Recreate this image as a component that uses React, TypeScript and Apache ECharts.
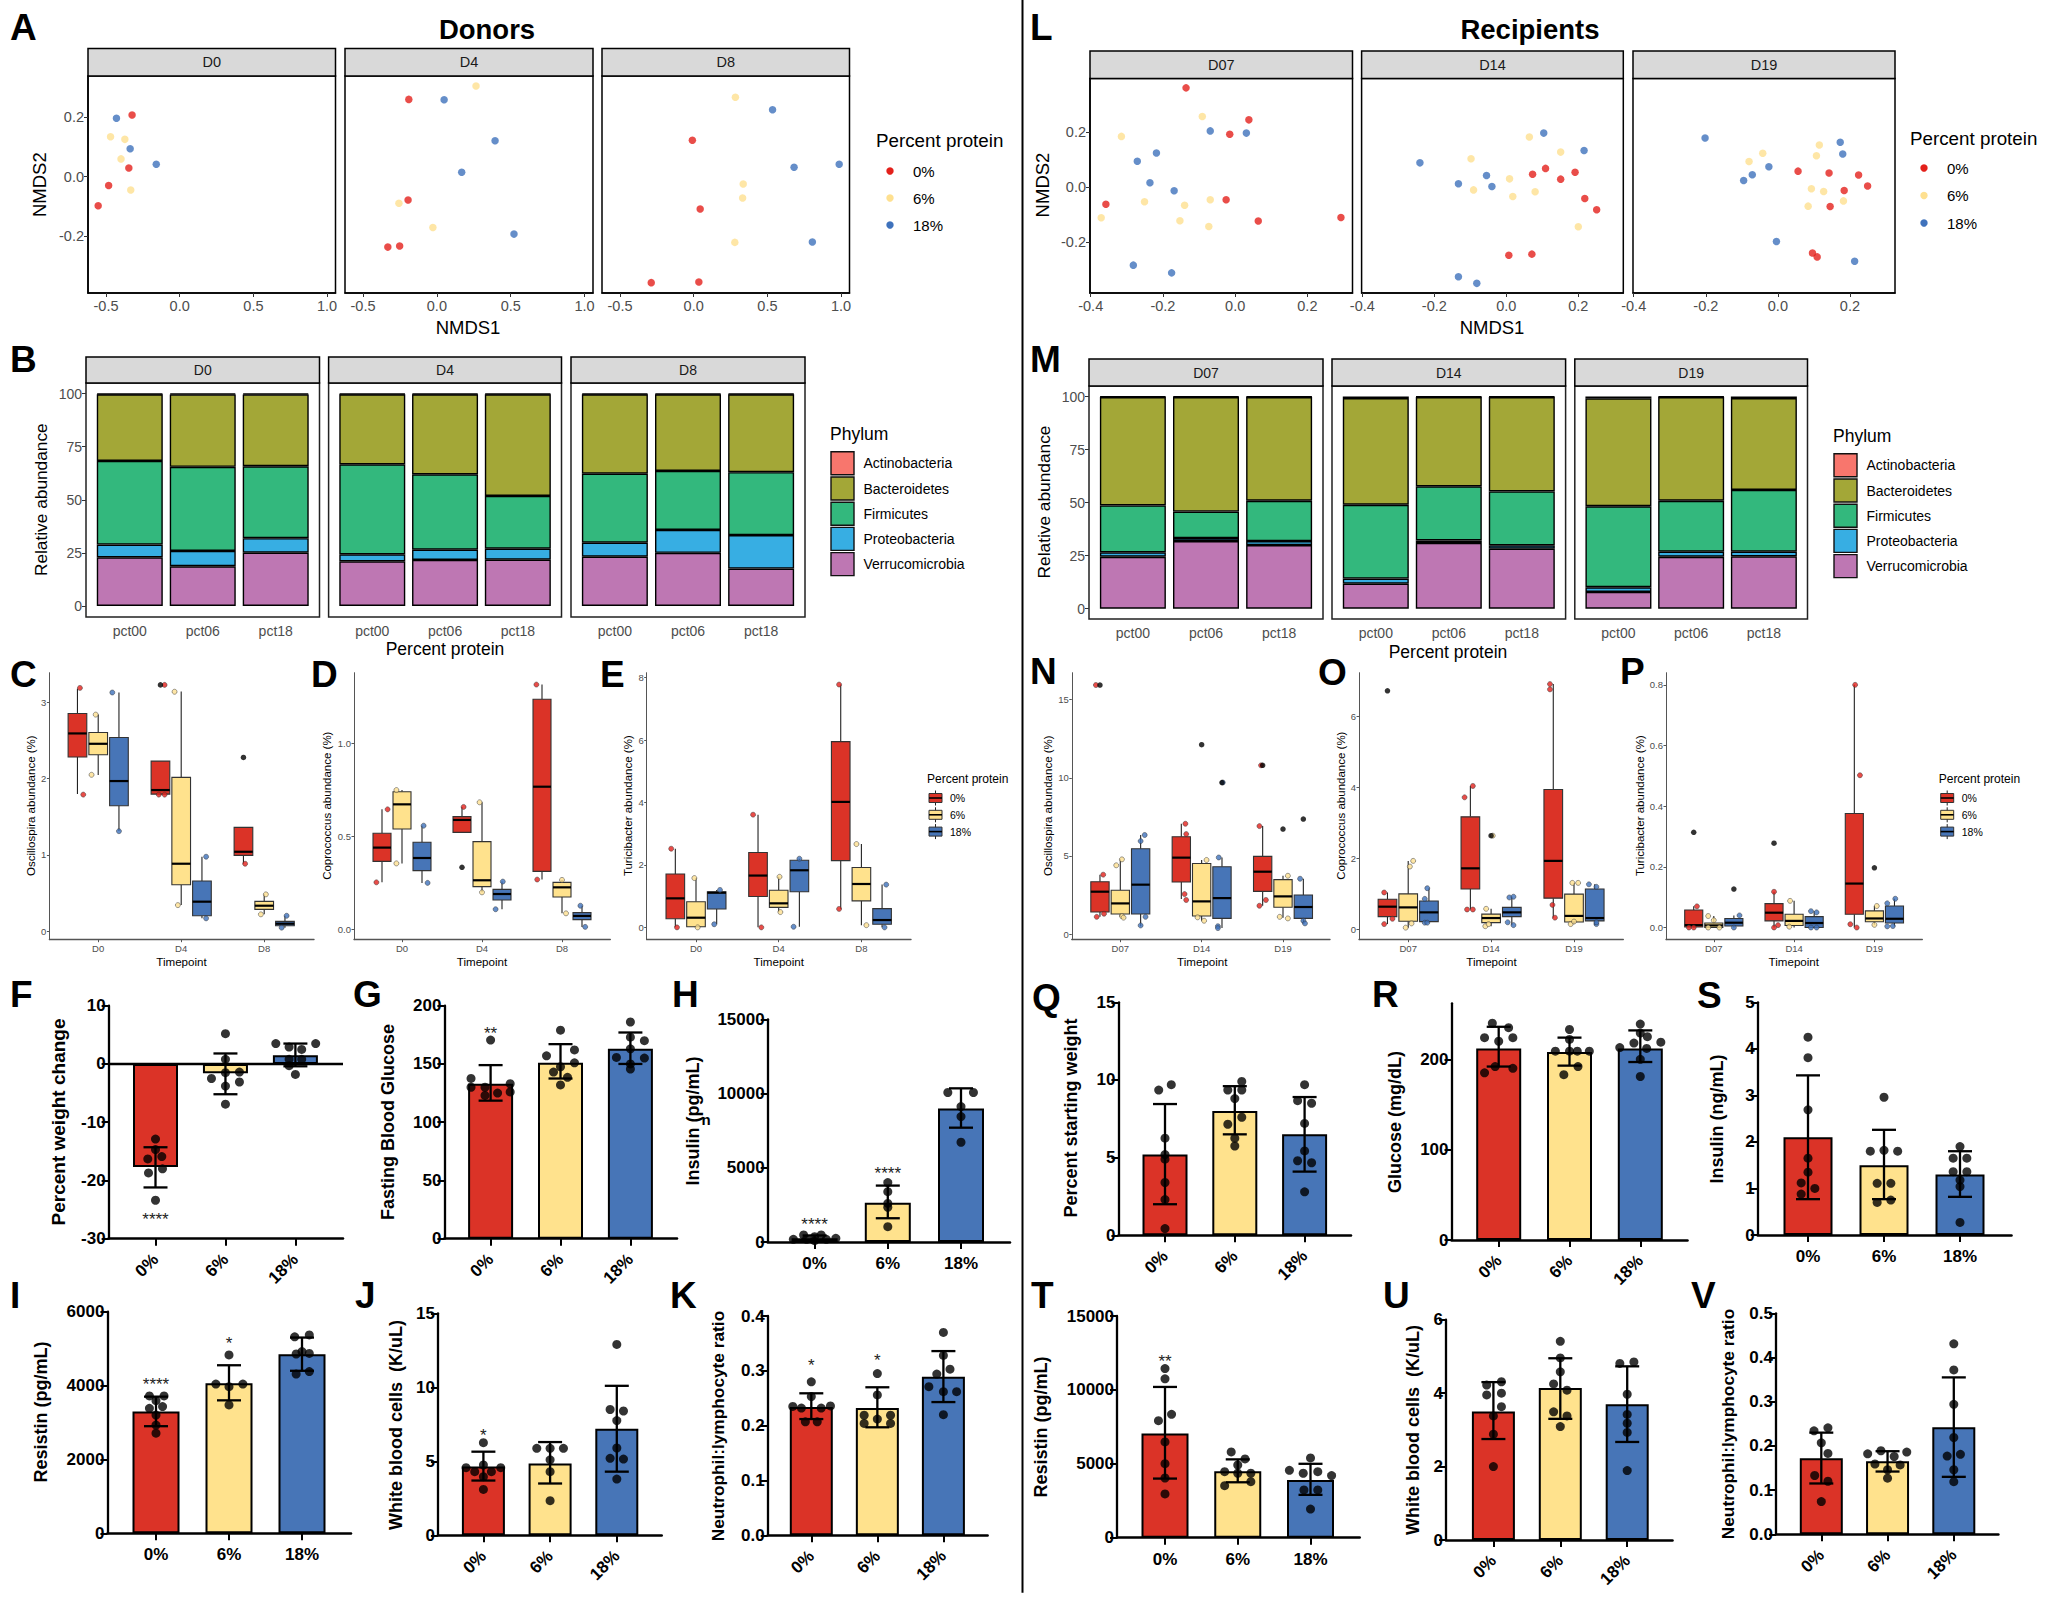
import React, { useEffect, useRef } from "react";
import * as echarts from "echarts";

// ---------- labels ----------
const groupLabels = ["0%", "6%", "18%"];
const phyla = ["Actinobacteria", "Bacteroidetes", "Firmicutes", "Proteobacteria", "Verrucomicrobia"];
const pctLabels = ["pct00", "pct06", "pct18"];
const donorDays = ["D0", "D4", "D8"];
const recipientDays = ["D07", "D14", "D19"];

// ---------- NMDS points: [NMDS1, NMDS2], one list per protein group ----------
const A_D0 = [
  [[-0.323, 0.208], [-0.345, 0.029], [-0.482, -0.03], [-0.553, -0.098]],
  [[-0.469, 0.135], [-0.372, 0.126], [-0.398, 0.06], [-0.332, -0.045]],
  [[-0.429, 0.197], [-0.336, 0.094], [-0.159, 0.042]],
];
const A_D4 = [
  [[-0.19, 0.261], [-0.195, -0.079], [-0.252, -0.234], [-0.332, -0.238]],
  [[0.265, 0.306], [-0.257, -0.09], [-0.027, -0.172]],
  [[0.049, 0.26], [0.394, 0.121], [0.168, 0.015], [0.522, -0.194]],
];
const A_D8 = [
  [[-0.009, 0.123], [0.044, -0.109], [-0.288, -0.358], [0.035, -0.356]],
  [[0.283, 0.268], [0.336, -0.025], [0.332, -0.072], [0.279, -0.222]],
  [[0.535, 0.226], [0.681, 0.032], [0.987, 0.042], [0.805, -0.221]],
];
const L_D07 = [
  [[-0.136, 0.36], [0.038, 0.244], [-0.015, 0.192], [-0.358, -0.062], [-0.025, -0.046], [0.064, -0.123], [0.293, -0.11]],
  [[-0.091, 0.256], [-0.315, 0.184], [-0.251, -0.053], [-0.14, -0.066], [-0.069, -0.046], [-0.371, -0.111], [-0.153, -0.122], [-0.073, -0.143]],
  [[-0.069, 0.204], [0.031, 0.196], [-0.218, 0.124], [-0.271, 0.094], [-0.236, 0.016], [-0.169, -0.013], [-0.282, -0.283], [-0.176, -0.311]],
];
const L_D14 = [
  [[0.109, 0.068], [0.073, 0.047], [0.191, 0.054], [0.151, 0.029], [0.218, -0.041], [0.251, -0.082], [0.007, -0.247], [0.071, -0.243]],
  [[0.064, 0.182], [0.151, 0.127], [-0.098, 0.103], [0.009, 0.03], [-0.091, -0.01], [0.08, -0.017], [0.018, -0.034], [0.2, -0.144]],
  [[0.104, 0.196], [0.216, 0.133], [-0.24, 0.088], [-0.055, 0.042], [-0.133, 0.012], [-0.04, 0.002], [-0.133, -0.325], [-0.082, -0.349]],
];
const L_D19 = [
  [[0.056, 0.058], [0.142, 0.051], [0.224, 0.044], [0.249, 0.004], [0.184, -0.012], [0.145, -0.07], [0.096, -0.239], [0.109, -0.253]],
  [[0.115, 0.153], [-0.042, 0.123], [0.107, 0.114], [-0.08, 0.093], [0.093, -0.006], [0.127, -0.016], [0.182, -0.05], [0.084, -0.069]],
  [[-0.202, 0.178], [0.173, 0.163], [0.18, 0.12], [-0.025, 0.074], [-0.071, 0.045], [-0.095, 0.024], [-0.004, -0.197], [0.213, -0.269]],
];

// ---------- relative abundance: per facet, per pct group ----------
const B_verruco = [[22.9, 18.7, 25.1], [21, 21.7, 21.8], [23.2, 25, 17.6]];
const B_proteo = [[6, 7.2, 6.8], [3.3, 4.8, 5.2], [6.6, 10.8, 15.8]];
const B_firmi = [[39.4, 39.6, 33.9], [42.4, 35.5, 24.8], [32.5, 27.8, 29.6]];
const B_bactero = [[31.4, 34.1, 33.8], [33, 37.7, 47.9], [37.4, 36.1, 36.7]];
const B_actino = [[0.3, 0.4, 0.4], [0.3, 0.3, 0.3], [0.3, 0.3, 0.3]];
const M_verruco = [[24.5, 31.9, 30], [11.8, 31, 28.3], [7.9, 24.5, 24.7]];
const M_proteo = [[2.1, 1.4, 1.9], [2.4, 1.2, 1.6], [2.2, 2.4, 2.2]];
const M_firmi = [[22.1, 12.5, 19], [34.8, 25.5, 25.4], [38.2, 24, 29.1]];
const M_bactero = [[51.1, 54, 48.9], [50.3, 42.1, 44.5], [50.9, 48.9, 43.3]];
const M_actino = [[0.2, 0.2, 0.2], [0.7, 0.2, 0.2], [0.8, 0.2, 0.7]];

// ---------- box plots: [min, q1, median, q3, max], order D1 0/6/18, D2 0/6/18, D3 0/6/18 ----------
const C_stats = [[1.797, 2.283, 2.593, 2.855, 3.18], [2.046, 2.313, 2.457, 2.606, 2.84], [1.312, 1.644, 1.968, 2.54, 3.13], [1.79, 1.797, 1.85, 2.23, 2.23], [0.341, 0.608, 0.883, 2.016, 3.144], [0.166, 0.201, 0.385, 0.656, 0.975], [0.883, 0.993, 1.04, 1.36, 1.36], [0.219, 0.284, 0.332, 0.389, 0.481], [0.044, 0.07, 0.096, 0.127, 0.2]];
const C_outliers = [[], [], [], [3.23], [], [], [2.278], [], []];
const C_dots = [[[0.03, 3.19], [0.07, 1.79]], [[-0.03, 2.84], [-0.08, 2.05]], [[-0.08, 3.13], [0, 1.31]], [[0.05, 3.23], [-0.02, 1.79], [0.05, 1.79]], [[-0.08, 3.14], [-0.04, 0.34]], [[0.05, 0.975], [0.05, 0.166]], [[0.02, 0.883]], [[0.02, 0.481], [-0.04, 0.219]], [[0.02, 0.2], [-0.04, 0.044]]];
const D_stats = [[0.253, 0.366, 0.44, 0.517, 0.646], [0.355, 0.54, 0.673, 0.741, 0.75], [0.25, 0.316, 0.384, 0.469, 0.558], [0.522, 0.522, 0.589, 0.607, 0.659], [0.199, 0.23, 0.264, 0.472, 0.684], [0.108, 0.158, 0.19, 0.215, 0.257], [0.268, 0.312, 0.768, 1.239, 1.318], [0.086, 0.174, 0.226, 0.253, 0.266], [0.013, 0.052, 0.072, 0.09, 0.127]];
const D_outliers = [[], [], [], [0.334], [], [], [], [], []];
const D_dots = [[[0.07, 0.646], [-0.07, 0.253]], [[-0.07, 0.75], [-0.07, 0.355]], [[0.02, 0.558], [0.07, 0.25]], [[0.02, 0.659]], [[-0.03, 0.684], [0, 0.199]], [[0.01, 0.257], [-0.08, 0.108]], [[-0.07, 1.318], [-0.06, 0.268]], [[0, 0.266], [0.05, 0.086]], [[-0.02, 0.127], [0.04, 0.013]]];
const E_stats = [[0, 0.278, 0.93, 1.71, 2.52], [0, 0.02, 0.31, 0.823, 1.58], [0.1, 0.59, 1.11, 1.14, 1.2], [0, 0.99, 1.66, 2.4, 3.61], [0.49, 0.64, 0.77, 1.19, 1.62], [0.02, 1.14, 1.83, 2.15, 2.2], [0.59, 2.14, 4.02, 5.95, 7.78], [0.07, 0.85, 1.39, 1.92, 2.67], [0, 0.1, 0.235, 0.6, 1.37]];
const E_outliers = [[], [], [], [], [], [], [], [], []];
const E_dots = [[[-0.05, 2.52], [0.02, 0]], [[-0.02, 1.58], [0.02, 0]], [[0.04, 1.2], [-0.03, 0.1]], [[-0.06, 3.61], [0.04, 0]], [[0.01, 1.62], [0.02, 0.49]], [[0, 2.2], [-0.07, 0.02]], [[-0.02, 7.78], [-0.02, 0.59]], [[-0.06, 2.67], [0.06, 0.07]], [[0.05, 1.37], [0.03, 0]]];
const N_stats = [[1.1, 1.41, 2.71, 3.35, 3.8], [1.1, 1.28, 1.96, 2.8, 4.78], [0.5, 1.28, 3.16, 5.46, 6.34], [2.24, 3.33, 4.89, 6.23, 7.06], [0.85, 1.15, 2.09, 4.52, 4.74], [0.38, 1, 2.3, 4.31, 4.9], [1.81, 2.73, 3.99, 4.97, 6.91], [1.05, 1.71, 2.41, 3.48, 3.73], [0.68, 1, 1.73, 2.5, 3.54]];
const N_outliers = [[15.94], [], [], [], [12.12], [9.7], [10.8], [6.72], [7.36]];
const N_dots = [[[-0.05, 15.94], [0.04, 3.8], [-0.04, 1.1], [0.05, 1.3]], [[0.02, 4.78], [-0.05, 4.4], [0.02, 1.15], [0.04, 1.05]], [[0.05, 6.34], [0, 5.95], [0.06, 1.1], [0, 0.55]], [[0.05, 7.06], [0.06, 6.4], [0.04, 2.56], [0.06, 2.18]], [[0.06, 4.74], [-0.05, 1.07], [0.03, 0.85]], [[-0.04, 4.9], [-0.05, 0.5], [-0.05, 0.38], [0.01, 9.7]], [[-0.02, 10.8], [-0.04, 6.91], [0.04, 2.18], [-0.04, 1.81]], [[0.06, 3.73], [-0.04, 1.1], [0.06, 1]], [[-0.04, 3.54], [0, 0.85], [0.02, 0.68]]];
const O_stats = [[0.15, 0.36, 0.64, 0.85, 1.04], [0.05, 0.23, 0.62, 1, 1.93], [0.19, 0.22, 0.48, 0.8, 1.16], [0.56, 1.14, 1.72, 3.17, 4.04], [0.09, 0.19, 0.32, 0.43, 0.58], [0.12, 0.36, 0.48, 0.62, 0.92], [0.33, 0.88, 1.93, 3.94, 6.91], [0.15, 0.21, 0.38, 0.995, 1.31], [0.12, 0.24, 0.32, 1.14, 1.27]];
const O_outliers = [[6.72], [], [], [], [2.64], [], [], [], []];
const O_dots = [[[-0.04, 1.04], [0.06, 0.3], [-0.04, 0.15]], [[0.06, 1.93], [0.02, 1.77], [0.04, 0.17], [-0.03, 0.05]], [[-0.02, 1.16], [-0.05, 0.86], [-0.05, 0.19], [-0.02, 0.19]], [[0.03, 4.04], [-0.07, 3.72], [-0.04, 0.56], [0.03, 0.56]], [[-0.06, 0.58], [-0.07, 0.09], [-0.03, 0.15], [0.02, 2.64]], [[-0.03, 0.9], [0.02, 0.92], [-0.05, 0.2], [0.02, 0.12]], [[-0.04, 6.91], [-0.04, 6.76], [-0.01, 0.69], [0.02, 0.33]], [[-0.02, 1.31], [0.05, 1.31], [-0.04, 0.15], [0, 0.22]], [[-0.07, 1.27], [0.02, 1.2], [0.02, 0.15], [0.02, 0.2]]];
const P_stats = [[0, 0.002, 0.008, 0.058, 0.07], [0, 0, 0.007, 0.015, 0.038], [0, 0.005, 0.016, 0.03, 0.04], [0, 0.022, 0.049, 0.079, 0.118], [0, 0.007, 0.022, 0.044, 0.088], [0, 0, 0.015, 0.036, 0.054], [0, 0.044, 0.145, 0.376, 0.8], [0.009, 0.019, 0.03, 0.055, 0.071], [0.004, 0.015, 0.029, 0.071, 0.095]];
const P_outliers = [[0.314], [], [0.127], [0.278], [], [], [], [0.197], []];
const P_dots = [[[0.04, 0.07], [-0.06, 0], [0, 0]], [[-0.07, 0.038], [0, 0.024], [-0.07, 0], [0.07, 0]], [[0.07, 0.04], [0, 0]], [[0, 0.118], [0.05, 0.008], [0, 0]], [[-0.05, 0.088], [-0.06, 0.003]], [[-0.04, 0.054], [0.03, 0.05], [-0.04, 0], [0.03, 0]], [[0.01, 0.8], [0.07, 0.502], [-0.05, 0.011], [0.03, 0]], [[0.03, 0.071], [0, 0.009]], [[0.01, 0.095], [-0.09, 0.08], [-0.09, 0.004], [-0.02, 0.005]]];

// ---------- bar panels: mean, error low, error high, dots [x jitter, value] per group ----------
const F_mean = [-17.7, -1.6, 1.5];
const F_lo = [-21.2, -5.2, -0.4];
const F_hi = [-14.3, 1.8, 3.5];
const F_dots = [[[0, -12.9], [-0.11, -16.3], [0.09, -15.9], [0, -14.7], [0.1, -18], [-0.1, -18.7], [0, -23.4]], [[0, 5.2], [0, 0.8], [-0.2, -2.5], [0.2, -3.1], [0, -1.5], [0.2, -1.4], [0, -3.8], [0, -6.9]], [[-0.28, 3.5], [0.29, 3.5], [-0.09, 2.9], [0.09, 2.5], [-0.09, 0.8], [0.09, 0.8], [-0.09, -0.3], [0, -1.8]]];
const G_mean = [133, 151, 163];
const G_lo = [118.5, 137.5, 150];
const G_hi = [149, 167, 177];
const G_dots = [[[0, 170.5], [-0.28, 137.6], [-0.28, 130], [0.28, 133], [0.28, 126], [-0.08, 130], [0.1, 125], [-0.08, 123]], [[0, 179], [-0.2, 157], [0.2, 162], [0.2, 151], [0, 147.6], [-0.1, 143], [0.1, 138.5], [0, 132]], [[0, 186], [0, 173], [0.2, 170], [0, 163], [-0.2, 155.6], [0.2, 155], [0, 150], [0, 145.6]]];
const H_mean = [260, 2650, 9000];
const H_lo = [80, 1600, 7700];
const H_hi = [440, 3800, 10350];
const H_dots = [[[-0.29, 180], [-0.15, 470], [0, 360], [0.09, 470], [0.29, 250], [0.16, 180], [-0.11, 180], [0, 90]], [[0, 4000], [0, 3390], [0, 2600], [0, 2340], [0, 1030]], [[-0.18, 10070], [0.17, 10070], [0, 9120], [0, 8450], [0, 6720]]];
const I_mean = [3300, 4060, 4850];
const I_lo = [2900, 3600, 4400];
const I_hi = [3700, 4550, 5300];
const I_dots = [[[-0.09, 3720], [0.11, 3720], [0, 3590], [-0.09, 3385], [0.09, 3430], [0, 3200], [0, 2930], [0, 2710]], [[0, 4830], [-0.18, 4040], [0.19, 4040], [0, 3970], [0, 3475]], [[-0.1, 5320], [0.1, 5370], [0, 4920], [0.1, 4870], [-0.08, 4855], [0.1, 4380], [-0.08, 4310]]];
const J_mean = [4.65, 4.85, 7.2];
const J_lo = [3.7, 3.5, 4.3];
const J_hi = [5.65, 6.3, 10.1];
const J_dots = [[[0, 6.26], [-0.26, 4.57], [0.26, 4.57], [0, 4.75], [-0.13, 4.3], [0.12, 4.3], [0, 3.96], [0, 3.1]], [[-0.2, 5.88], [0.2, 5.88], [0, 5.88], [0, 5.1], [0, 4.3], [0, 2.34]], [[0, 12.9], [-0.1, 8.5], [0.1, 8.4], [0, 7.75], [0, 5.9], [-0.1, 5.2], [0.1, 5.15], [0, 3.8]]];
const K_mean = [0.234, 0.232, 0.289];
const K_lo = [0.212, 0.197, 0.243];
const K_hi = [0.259, 0.27, 0.336];
const K_dots = [[[0, 0.28], [0, 0.253], [-0.28, 0.235], [-0.15, 0.232], [0.15, 0.232], [0.29, 0.236], [-0.09, 0.207], [0.09, 0.207]], [[0, 0.295], [0, 0.256], [-0.2, 0.219], [0.2, 0.219], [-0.2, 0.204], [0, 0.212], [0.2, 0.204]], [[0, 0.37], [0, 0.328], [0.1, 0.303], [-0.1, 0.294], [-0.22, 0.271], [0.2, 0.262], [0, 0.262], [0, 0.22]]];
const Q_mean = [5.2, 8.0, 6.5];
const Q_lo = [2.0, 6.5, 4.1];
const Q_hi = [8.45, 9.6, 8.9];
const Q_dots = [[[-0.09, 9.35], [0.09, 9.7], [0, 6.25], [0, 5.2], [0, 4.9], [0, 3.4], [0, 2.3], [0, 0.43]], [[0.1, 9.9], [-0.1, 9.35], [0.1, 9.35], [0, 8.8], [0.1, 7.6], [-0.1, 7.15], [0, 6.25], [0, 5.75]], [[0, 9.7], [-0.1, 8.67], [0.1, 8.5], [0, 7.2], [0, 5.43], [-0.1, 4.8], [0.1, 4.67], [0, 2.8]]];
const R_mean = [212, 208, 212];
const R_lo = [192, 193, 197];
const R_hi = [236, 224, 232];
const R_dots = [[[-0.09, 240], [0.14, 235], [-0.2, 224], [0.2, 224], [0, 220], [-0.2, 185], [-0.05, 192], [0.2, 190]], [[0, 233], [0, 222], [-0.2, 209], [0, 209], [0.11, 209], [0.28, 209], [0.12, 192], [-0.08, 183]], [[0, 239], [0, 229], [0.1, 225], [0.29, 219], [-0.09, 218], [-0.29, 213], [0.09, 212], [0, 200], [0, 181]]];
const S_mean = [2.1, 1.5, 1.3];
const S_lo = [0.77, 0.77, 0.82];
const S_hi = [3.43, 2.26, 1.8];
const S_dots = [[[0, 4.25], [0, 3.81], [0, 2.69], [0, 1.65], [0, 1.35], [-0.09, 1.12], [0.09, 1], [-0.09, 0.88]], [[0, 2.96], [-0.18, 1.8], [0, 1.82], [0.18, 1.8], [-0.09, 1.11], [0.09, 1.11], [-0.09, 0.7], [0.09, 0.75]], [[0, 1.9], [-0.09, 1.65], [0.09, 1.65], [-0.09, 1.36], [0.09, 1.36], [0, 1.18], [0, 1.04], [0, 0.27]]];
const T_mean = [7050, 4500, 3900];
const T_lo = [4000, 3750, 2900];
const T_hi = [10200, 5300, 5000];
const T_dots = [[[0, 11440], [0, 10750], [0.09, 8350], [-0.09, 7920], [0, 6480], [0, 5010], [0, 4040], [0, 2960]], [[-0.09, 5800], [0.1, 5330], [0, 4920], [-0.18, 4470], [0, 4360], [0.18, 4360], [-0.18, 3520], [0.18, 3790]], [[0, 5400], [-0.29, 4560], [-0.1, 4360], [0.1, 4470], [0.29, 4200], [-0.09, 3230], [0.1, 3230], [0, 1940]]];
const U_mean = [3.5, 4.14, 3.7];
const U_lo = [2.75, 3.3, 2.67];
const U_hi = [4.3, 4.95, 4.73];
const U_dots = [[[-0.1, 4.22], [0.12, 4.31], [0.12, 4], [-0.1, 3.95], [0.12, 3.63], [0, 3.38], [0, 2.88], [0, 2]], [[0, 5.41], [0, 4.96], [0, 4.58], [-0.1, 4.25], [0.1, 4.08], [-0.1, 3.49], [0.1, 3.38], [0, 3.09]], [[-0.11, 4.81], [0.1, 4.85], [0, 3.97], [0, 3.42], [0, 3.18], [0, 2.93], [0, 1.89]]];
const V_mean = [0.172, 0.165, 0.242];
const V_lo = [0.115, 0.142, 0.13];
const V_hi = [0.23, 0.188, 0.355];
const V_dots = [[[-0.11, 0.234], [0.1, 0.241], [0, 0.207], [0.1, 0.183], [-0.1, 0.133], [0.1, 0.12], [0, 0.074]], [[-0.1, 0.189], [-0.3, 0.182], [0.29, 0.186], [0.1, 0.176], [-0.19, 0.159], [0.19, 0.157], [0, 0.146], [0, 0.127]], [[0, 0.431], [0, 0.372], [0, 0.294], [0, 0.219], [0.1, 0.181], [-0.1, 0.177], [0, 0.146], [0, 0.119]]];

// ---------- significance marks: [group index, height in data units, text] ----------
const F_stars = [[0, -26, "****"]];
const G_stars = [[0, 179.7, "**"]];
const H_stars = [[0, 1438, "****"], [1, 4854, "****"]];
const I_stars = [[0, 4134, "****"], [1, 5235, "*"]];
const J_stars = [[0, 7.0, "*"]];
const K_stars = [[0, 0.317, "*"], [1, 0.326, "*"]];
const T_stars = [[0, 12212, "**"]];

// ---------- styles ----------
const SANS = '"Liberation Sans", Arial, sans-serif';
const BAR_COLORS = ["#DB3327", "#FFE28D", "#4775B7"];
const DOT_COLORS = ["#E3201B", "#FEE090", "#3F72BC"];
const PHYLUM_COLORS = ["#F8766D", "#A3A737", "#33B87D", "#37AEE3", "#BE77B3"];
const GRAY = "#4d4d4d";

export default function App() {
  const ref = useRef<HTMLDivElement>(null);
  useEffect(() => {
    const chart = echarts.init(ref.current!, undefined, { renderer: "svg" });
    const grid: any[] = [];
    const xAxis: any[] = [];
    const yAxis: any[] = [];
    const series: any[] = [];
    const g: any[] = [];

    const text = (t: string, x: number, y: number, o: any = {}) =>
      g.push({
        type: "text", x, y, rotation: o.vertical ? Math.PI / 2 : 0, silent: true,
        style: {
          text: t, x: 0, y: 0, align: o.align || "center", verticalAlign: "middle",
          fontSize: o.size || 14, fontWeight: o.weight || "normal", fontFamily: SANS, fill: o.fill || "#000",
        },
      });
    const rect = (x: number, y: number, w: number, h: number, fill: string, stroke = "#000", lw = 1.5) =>
      g.push({ type: "rect", silent: true, shape: { x, y, width: w, height: h }, style: { fill, stroke, lineWidth: lw } });
    const line = (x1: number, y1: number, x2: number, y2: number, lw = 1, stroke = "#000") =>
      g.push({ type: "line", silent: true, shape: { x1, y1, x2, y2 }, style: { stroke, lineWidth: lw } });

    const addGrid = (left: number, top: number, right: number, bottom: number, frame = false) => {
      grid.push({
        left, top, width: right - left, height: bottom - top, containLabel: false,
        show: frame, borderColor: "#000", borderWidth: frame ? 1.5 : 0, backgroundColor: frame ? "#fff" : "transparent",
      });
      return grid.length - 1;
    };
    const xRange = (left: number, right: number, t: number[]) => {
      const u = (t[2] - t[0]) / 2;
      return [1 - (t[0] - left) / u, 3 + (right - t[2]) / u];
    };

    // ---- NMDS facets ----
    const nmds = (cfg: any) => {
      cfg.panels.forEach((p: number[], i: number) => {
        const idx = addGrid(p[0], cfg.top, p[1], cfg.bottom, true);
        rect(p[0], cfg.stripTop, p[1] - p[0], cfg.top - cfg.stripTop, "#D9D9D9");
        text(cfg.days[i], (p[0] + p[1]) / 2, (cfg.stripTop + cfg.top) / 2, { size: 14.5, fill: "#1a1a1a" });
        xAxis.push({
          gridIndex: idx, type: "value", min: cfg.xr[0], max: cfg.xr[1], splitLine: { show: false },
          axisLine: { onZero: false, lineStyle: { color: "#000", width: 1.5 } },
          axisTick: { length: 4, customValues: cfg.xt, lineStyle: { color: "#333" } },
          axisLabel: { customValues: cfg.xt, margin: 5, fontSize: 14.5, color: GRAY, fontFamily: SANS, formatter: (v: number) => v.toFixed(1) },
        });
        yAxis.push({
          gridIndex: idx, type: "value", min: cfg.yr[0], max: cfg.yr[1], show: i === 0, splitLine: { show: false },
          axisLine: { onZero: false, lineStyle: { color: "#000", width: 1.5 } },
          axisTick: { length: 4, customValues: cfg.yt, lineStyle: { color: "#333" } },
          axisLabel: { customValues: cfg.yt, margin: 4, fontSize: 14.5, color: GRAY, fontFamily: SANS, formatter: (v: number) => v.toFixed(1) },
        });
        cfg.data[i].forEach((pts: number[][], k: number) =>
          series.push({
            type: "scatter", name: groupLabels[k], xAxisIndex: idx, yAxisIndex: idx, data: pts, symbolSize: 7.5,
            itemStyle: { color: DOT_COLORS[k] }, clip: false,
          })
        );
      });
      text("NMDS1", cfg.xTitle[0], cfg.xTitle[1], { size: 18.5 });
      text("NMDS2", cfg.yTitle[0], cfg.yTitle[1], { size: 18.5, vertical: true });
      text("Percent protein", cfg.legend[0], cfg.legend[1], { size: 18.8, align: "left" });
      groupLabels.forEach((l, k) => {
        const y = cfg.legend[2] + k * cfg.legend[3];
        g.push({ type: "circle", silent: true, shape: { cx: cfg.legend[0] + 14, cy: y, r: 3.7 }, style: { fill: DOT_COLORS[k] } });
        text(l, cfg.legend[0] + 37, y, { size: 15, align: "left" });
      });
    };
    nmds({
      panels: [[88, 335.5], [345, 593], [602, 849.5]], stripTop: 48.5, top: 76, bottom: 293, days: donorDays,
      xr: [-0.622, 1.057], yr: [-0.393, 0.34], xt: [-0.5, 0, 0.5, 1], yt: [-0.2, 0, 0.2],
      data: [A_D0, A_D4, A_D8], xTitle: [468, 327], yTitle: [39, 184.7], legend: [876, 140, 171, 27],
    });
    nmds({
      panels: [[1090, 1352.5], [1361.6, 1623.3], [1633, 1895]], stripTop: 51, top: 78.5, bottom: 293, days: recipientDays,
      xr: [-0.402, 0.325], yr: [-0.384, 0.394], xt: [-0.4, -0.2, 0, 0.2], yt: [-0.2, 0, 0.2],
      data: [L_D07, L_D14, L_D19], xTitle: [1492, 327], yTitle: [1042, 185], legend: [1910, 138, 168, 27.5],
    });

    // ---- stacked composition facets: category bands fill an inner grid, the frame sits 0.1 band outside it ----
    const stacked = (cfg: any) => {
      cfg.panels.forEach((p: number[], i: number) => {
        const inset = (p[1] - p[0]) / 32;
        const idx = addGrid(p[0] + inset, cfg.top, p[1] - inset, cfg.bottom);
        rect(p[0], cfg.top, p[1] - p[0], cfg.bottom - cfg.top, "transparent", "#222", 1.5);
        rect(p[0], cfg.stripTop, p[1] - p[0], cfg.top - cfg.stripTop, "#D9D9D9");
        text(cfg.days[i], (p[0] + p[1]) / 2, (cfg.stripTop + cfg.top) / 2, { size: 14, fill: "#1a1a1a" });
        xAxis.push({
          gridIndex: idx, type: "category", data: pctLabels, splitLine: { show: false },
          axisLine: { show: false },
          axisTick: { length: 4, alignWithLabel: true, lineStyle: { color: "#333" } },
          axisLabel: { margin: 7, fontSize: 14, color: GRAY, fontFamily: SANS },
        });
        yAxis.push({
          gridIndex: idx, type: "value", min: cfg.yr[0], max: cfg.yr[1], show: i === 0, offset: inset, splitLine: { show: false },
          axisLine: { show: false },
          axisTick: { show: true, length: 4, customValues: [0, 25, 50, 75, 100], lineStyle: { color: "#333" } },
          axisLabel: { customValues: [0, 25, 50, 75, 100], margin: 4, fontSize: 14, color: GRAY, fontFamily: SANS },
        });
        [4, 3, 2, 1, 0].forEach((ph) => {
          series.push({
            type: "bar", name: phyla[ph], xAxisIndex: idx, yAxisIndex: idx, stack: "s" + idx, barWidth: 66,
            data: cfg.data[ph][i],
            itemStyle: { color: PHYLUM_COLORS[ph], borderColor: "#000", borderWidth: 1.4 },
          });
        });
      });
      text("Percent protein", cfg.xTitle[0], cfg.xTitle[1], { size: 17.5 });
      text("Relative abundance", cfg.yTitle[0], cfg.yTitle[1], { size: 17.3, vertical: true });
      text("Phylum", cfg.legend[0], cfg.legend[1], { size: 17.5, align: "left" });
      phyla.forEach((ph, k) => {
        const y = cfg.legend[2] + k * 25.2;
        rect(cfg.legend[0] + 1, y - 11.5, 23, 23, PHYLUM_COLORS[k], "#111", 1.4);
        text(ph, cfg.legend[0] + 33.5, y, { size: 14, align: "left" });
      });
    };
    stacked({
      panels: [[86, 319.5], [328.6, 561.5], [571, 805]], stripTop: 357, top: 383, bottom: 617, days: donorDays, yr: [-5.2, 105],
      data: [B_actino, B_bactero, B_firmi, B_proteo, B_verruco], xTitle: [445, 649], yTitle: [41, 499.7], legend: [830, 434, 463.3],
    });
    stacked({
      panels: [[1089, 1323], [1332, 1565.6], [1574.8, 1807.5]], stripTop: 359, top: 386, bottom: 619, days: recipientDays, yr: [-4.86, 105],
      data: [M_actino, M_bactero, M_firmi, M_proteo, M_verruco], xTitle: [1448, 651.7], yTitle: [1044, 502], legend: [1833, 436, 465.3],
    });

    // ---- box plots ----
    const renderBox = (color: string) => (_: any, api: any) => {
      const x = api.value(0);
      const pt = (xv: number, yv: number) => api.coord([xv, yv]);
      const w = api.size([0.225, 0])[0] / 2;
      const cx = pt(x, 0)[0];
      const yMin = pt(x, api.value(1))[1];
      const yQ1 = pt(x, api.value(2))[1];
      const yMed = pt(x, api.value(3))[1];
      const yQ3 = pt(x, api.value(4))[1];
      const yMax = pt(x, api.value(5))[1];
      return {
        type: "group",
        children: [
          { type: "line", shape: { x1: cx, y1: yMin, x2: cx, y2: yQ1 }, style: { stroke: "#222", lineWidth: 1.1 } },
          { type: "line", shape: { x1: cx, y1: yQ3, x2: cx, y2: yMax }, style: { stroke: "#222", lineWidth: 1.1 } },
          { type: "rect", shape: { x: cx - w, y: yQ3, width: 2 * w, height: yQ1 - yQ3 }, style: { fill: color, stroke: "#333", lineWidth: 1.1 } },
          { type: "line", shape: { x1: cx - w, y1: yMed, x2: cx + w, y2: yMed }, style: { stroke: "#000", lineWidth: 2.2 } },
        ],
      };
    };
    const boxPanel = (cfg: any) => {
      const idx = addGrid(cfg.left, 672.7, cfg.right, 939.7);
      const xr = xRange(cfg.left, cfg.right, cfg.ticks);
      xAxis.push({
        gridIndex: idx, type: "value", min: xr[0], max: xr[1], splitLine: { show: false },
        axisLine: { onZero: false, lineStyle: { color: "#555", width: 1.4 } },
        axisTick: { length: 2.5, customValues: [1, 2, 3], lineStyle: { color: "#555" } },
        axisLabel: { customValues: [1, 2, 3], margin: 4, fontSize: 9.5, color: GRAY, fontFamily: SANS, formatter: (v: number) => cfg.days[v - 1] },
      });
      yAxis.push({
        gridIndex: idx, type: "value", min: cfg.yr[0], max: cfg.yr[1], splitLine: { show: false },
        axisLine: { onZero: false, lineStyle: { color: "#555", width: 1 } },
        axisTick: { length: 2.5, customValues: cfg.yt, lineStyle: { color: "#555" } },
        axisLabel: { customValues: cfg.yt, margin: 3, fontSize: 9.5, color: GRAY, fontFamily: SANS, formatter: (v: number) => (cfg.dec ? v.toFixed(cfg.dec) : String(v)) },
      });
      [0, 1, 2].forEach((k) => {
        const xOf = (c: number) => c + 1 + (k - 1) * 0.25;
        series.push({
          type: "custom", name: groupLabels[k], xAxisIndex: idx, yAxisIndex: idx, clip: false, renderItem: renderBox(BAR_COLORS[k]),
          encode: { x: 0, y: [1, 2, 3, 4, 5] },
          data: [0, 1, 2].map((c) => [xOf(c), ...cfg.stats[c * 3 + k]]),
        });
        const dots: number[][] = [];
        const out: number[][] = [];
        [0, 1, 2].forEach((c) => {
          cfg.dots[c * 3 + k].forEach((d: number[]) => dots.push([xOf(c) + d[0], d[1]]));
          cfg.outliers[c * 3 + k].forEach((v: number) => out.push([xOf(c), v]));
        });
        series.push({
          type: "scatter", name: groupLabels[k], xAxisIndex: idx, yAxisIndex: idx, data: dots, symbolSize: 5, clip: false, z: 3,
          itemStyle: { color: DOT_COLORS[k], borderColor: "#333", borderWidth: 0.6 },
        });
        series.push({
          type: "scatter", name: groupLabels[k], xAxisIndex: idx, yAxisIndex: idx, data: out, symbolSize: 5.5, clip: false, z: 4,
          itemStyle: { color: "#000" },
        });
      });
      text(cfg.title, cfg.titleX, 805.7, { size: 11.5, vertical: true });
      text("Timepoint", cfg.ticks[1], 961, { size: 11.6 });
    };
    boxPanel({ left: 49.4, right: 314, ticks: [98.2, 181.5, 264.2], yr: [-0.114, 3.39], yt: [0, 1, 2, 3], days: donorDays, stats: C_stats, dots: C_dots, outliers: C_outliers, title: "Oscillospira abundance (%)", titleX: 30.6 });
    boxPanel({ left: 354, right: 610.3, ticks: [402, 482, 562], yr: [-0.056, 1.382], yt: [0, 0.5, 1], dec: 1, days: donorDays, stats: D_stats, dots: D_dots, outliers: D_outliers, title: "Coprococcus abundance (%)", titleX: 327 });
    boxPanel({ left: 646.7, right: 911, ticks: [696, 778.8, 861.4], yr: [-0.395, 8.16], yt: [0, 2, 4, 6, 8], days: donorDays, stats: E_stats, dots: E_dots, outliers: E_outliers, title: "Turicibacter abundance (%)", titleX: 628 });
    boxPanel({ left: 1071.8, right: 1330, ticks: [1120.3, 1202.3, 1283], yr: [-0.363, 16.73], yt: [0, 5, 10, 15], days: recipientDays, stats: N_stats, dots: N_dots, outliers: N_outliers, title: "Oscillospira abundance (%)", titleX: 1048 });
    boxPanel({ left: 1359, right: 1623.3, ticks: [1408.2, 1491.5, 1574], yr: [-0.29, 7.23], yt: [0, 2, 4, 6], days: recipientDays, stats: O_stats, dots: O_dots, outliers: O_outliers, title: "Coprococcus abundance (%)", titleX: 1341 });
    boxPanel({ left: 1666, right: 1922.3, ticks: [1713.8, 1793.8, 1874.4], yr: [-0.04, 0.84], yt: [0, 0.2, 0.4, 0.6, 0.8], dec: 1, days: recipientDays, stats: P_stats, dots: P_dots, outliers: P_outliers, title: "Turicibacter abundance (%)", titleX: 1640 });
    // box legends
    [[927, 779], [1938.7, 779]].forEach(([lx, ly]) => {
      text("Percent protein", lx, ly, { size: 12, align: "left" });
      groupLabels.forEach((l, k) => {
        const y = ly + 19 + k * 16.8;
        const kx = lx + 8.5;
        line(kx, y - 7.5, kx, y + 7.5, 1, "#222");
        rect(kx - 6.5, y - 4.5, 13, 9, BAR_COLORS[k], "#333", 1);
        line(kx - 6.5, y, kx + 6.5, y, 1.6);
        text(l, lx + 23, y, { size: 10.5, align: "left" });
      });
    });

    // ---- mean/SD bar panels ----
    const renderErr = (cap: number) => (_: any, api: any) => {
      const x = api.value(0);
      const lo = api.coord([x, api.value(1)]);
      const hi = api.coord([x, api.value(2)]);
      const s = { stroke: "#000", lineWidth: 2.3 };
      return {
        type: "group",
        children: [
          { type: "line", shape: { x1: lo[0], y1: lo[1], x2: hi[0], y2: hi[1] }, style: s },
          { type: "line", shape: { x1: lo[0] - cap, y1: lo[1], x2: lo[0] + cap, y2: lo[1] }, style: s },
          { type: "line", shape: { x1: hi[0] - cap, y1: hi[1], x2: hi[0] + cap, y2: hi[1] }, style: s },
        ],
      };
    };
    const renderStar = (_: any, api: any) => {
      const p = api.coord([api.value(0), api.value(1)]);
      return {
        type: "text",
        style: { text: api.value(2), x: p[0], y: p[1] + 4, align: "center", verticalAlign: "middle", fontSize: 17, fontFamily: SANS, fill: "#222" },
      };
    };
    const barPanel = (cfg: any) => {
      const idx = addGrid(cfg.left, cfg.top, cfg.right, cfg.bottom);
      const xr = xRange(cfg.left, cfg.right, cfg.ticks);
      xAxis.push({
        gridIndex: idx, type: "value", min: xr[0], max: xr[1], splitLine: { show: false },
        axisLine: { onZero: false, lineStyle: { color: "#000", width: 2.5 } },
        axisTick: { length: 7, customValues: [1, 2, 3], lineStyle: { color: "#000", width: 2 } },
        axisLabel: {
          customValues: [1, 2, 3], margin: cfg.rot ? 18 : 13, rotate: cfg.rot ? 45 : 0, fontSize: 17, fontWeight: "bold", color: "#000", fontFamily: SANS,
          formatter: (v: number) => groupLabels[v - 1],
        },
      });
      yAxis.push({
        gridIndex: idx, type: "value", min: cfg.yr[0], max: cfg.yr[1], splitLine: { show: false },
        axisLine: { onZero: false, lineStyle: { color: "#000", width: 2.3 } },
        axisTick: { length: 7, customValues: cfg.yt, lineStyle: { color: "#000", width: 2 } },
        axisLabel: {
          customValues: cfg.yt, margin: 3, fontSize: 17, fontWeight: "bold", color: "#000", fontFamily: SANS,
          formatter: (v: number) => (cfg.dec ? v.toFixed(cfg.dec) : String(v)),
        },
      });
      series.push({
        type: "bar", xAxisIndex: idx, yAxisIndex: idx, barWidth: cfg.bw, clip: false,
        data: cfg.mean.map((v: number, k: number) => ({ value: [k + 1, v], itemStyle: { color: BAR_COLORS[k], borderColor: "#000", borderWidth: 2 } })),
      });
      if (cfg.zero) {
        series.push({
          type: "line", xAxisIndex: idx, yAxisIndex: idx, data: [[xr[0], 0], [xr[1], 0]], symbol: "none",
          lineStyle: { color: "#000", width: 2.5 },
        });
      }
      const dots: number[][] = [];
      cfg.dots.forEach((ds: number[][], k: number) => ds.forEach((d) => dots.push([k + 1 + d[0], d[1]])));
      series.push({
        type: "scatter", xAxisIndex: idx, yAxisIndex: idx, data: dots, symbolSize: 9, clip: false, z: 5,
        itemStyle: { color: "#000" },
      });
      series.push({
        type: "custom", xAxisIndex: idx, yAxisIndex: idx, clip: false, z: 6, renderItem: renderErr(12), encode: { x: 0, y: [1, 2] },
        data: cfg.mean.map((_: number, k: number) => [k + 1, cfg.lo[k], cfg.hi[k]]),
      });
      if (cfg.stars) {
        series.push({
          type: "custom", xAxisIndex: idx, yAxisIndex: idx, clip: false, z: 6, renderItem: renderStar, encode: { x: 0, y: 1 },
          dimensions: ["x", "y", { name: "t", type: "ordinal" }],
          data: cfg.stars.map((s: any[]) => [s[0] + 1, s[1], s[2]]),
        });
      }
      text(cfg.title, cfg.tp[0], cfg.tp[1], { size: cfg.ts || 18, weight: "bold", vertical: true });
    };
    barPanel({ left: 108.6, right: 343, top: 1005.7, bottom: 1238.7, ticks: [155.5, 225.8, 295.4], yr: [-30, 10], yt: [-30, -20, -10, 0, 10], bw: 45, rot: true, zero: true, mean: F_mean, lo: F_lo, hi: F_hi, dots: F_dots, stars: F_stars, title: "Percent weight change", tp: [58.6, 1122], ts: 19 });
    barPanel({ left: 444.4, right: 677, top: 1005.7, bottom: 1238.7, ticks: [490.6, 560.8, 630.4], yr: [0, 200], yt: [0, 50, 100, 150, 200], bw: 45, rot: true, mean: G_mean, lo: G_lo, hi: G_hi, dots: G_dots, stars: G_stars, title: "Fasting Blood Glucose", tp: [388.4, 1122] });
    barPanel({ left: 767.7, right: 1010, top: 1019.3, bottom: 1242, ticks: [814.6, 888, 961], yr: [0, 15000], yt: [0, 5000, 10000, 15000], bw: 46, mean: H_mean, lo: H_lo, hi: H_hi, dots: H_dots, stars: H_stars, title: "Insulin (pg/mL)", tp: [693, 1121] });
    barPanel({ left: 107.4, right: 351, top: 1311.7, bottom: 1533.3, ticks: [156, 229, 302], yr: [0, 6000], yt: [0, 2000, 4000, 6000], bw: 47, mean: I_mean, lo: I_lo, hi: I_hi, dots: I_dots, stars: I_stars, title: "Resistin (pg/mL)", tp: [41, 1412] });
    barPanel({ left: 437.9, right: 661.7, top: 1313.3, bottom: 1535.3, ticks: [483.4, 549.8, 616.8], yr: [0, 15], yt: [0, 5, 10, 15], bw: 43, rot: true, mean: J_mean, lo: J_lo, hi: J_hi, dots: J_dots, stars: J_stars, title: "White blood cells  (K/uL)", tp: [395.6, 1425] });
    barPanel({ left: 767.7, right: 987.6, top: 1316, bottom: 1535.3, ticks: [811.3, 877, 943.4], yr: [0, 0.4], yt: [0, 0.1, 0.2, 0.3, 0.4], dec: 1, bw: 43, rot: true, mean: K_mean, lo: K_lo, hi: K_hi, dots: K_dots, stars: K_stars, title: "Neutrophil:lymphocyte ratio", tp: [717.6, 1426], ts: 17.3 });
    barPanel({ left: 1118.4, right: 1351, top: 1002.3, bottom: 1235.3, ticks: [1165, 1234.4, 1304.6], yr: [0, 15], yt: [0, 5, 10, 15], bw: 45, rot: true, mean: Q_mean, lo: Q_lo, hi: Q_hi, dots: Q_dots, title: "Percent starting weight", tp: [1071, 1118] });
    barPanel({ left: 1451.5, right: 1687.5, top: 1003.3, bottom: 1240, ticks: [1498.7, 1569.5, 1640.3], yr: [0, 262], yt: [0, 100, 200], bw: 45, rot: true, mean: R_mean, lo: R_lo, hi: R_hi, dots: R_dots, title: "Glucose (mg/dL)", tp: [1395, 1122] });
    barPanel({ left: 1757.7, right: 2011.5, top: 1002.3, bottom: 1235, ticks: [1808, 1884, 1960], yr: [0, 5], yt: [0, 1, 2, 3, 4, 5], bw: 49, mean: S_mean, lo: S_lo, hi: S_hi, dots: S_dots, title: "Insulin (ng/mL)", tp: [1717, 1119] });
    barPanel({ left: 1117, right: 1359.7, top: 1316, bottom: 1537.7, ticks: [1165, 1237.7, 1310.5], yr: [0, 15000], yt: [0, 5000, 10000, 15000], bw: 47, mean: T_mean, lo: T_lo, hi: T_hi, dots: T_dots, stars: T_stars, title: "Resistin (pg/mL)", tp: [1041, 1427] });
    barPanel({ left: 1446, right: 1672.5, top: 1319.7, bottom: 1540, ticks: [1493.4, 1561, 1627.2], yr: [0, 6], yt: [0, 2, 4, 6], bw: 43, rot: true, mean: U_mean, lo: U_lo, hi: U_hi, dots: U_dots, title: "White blood cells  (K/uL)", tp: [1413.4, 1430] });
    barPanel({ left: 1776, right: 1998.4, top: 1313.3, bottom: 1534.3, ticks: [1821.3, 1887.5, 1953.8], yr: [0, 0.5], yt: [0, 0.1, 0.2, 0.3, 0.4, 0.5], dec: 1, bw: 43, rot: true, mean: V_mean, lo: V_lo, hi: V_hi, dots: V_dots, title: "Neutrophil:lymphocyte ratio", tp: [1728, 1424], ts: 17.3 });
    text("n", 706, 1119, { size: 15, weight: "bold" });

    // ---- titles, divider, panel letters ----
    text("Donors", 487, 29, { size: 27.5, weight: "bold" });
    text("Recipients", 1530, 29, { size: 27.5, weight: "bold" });
    line(1022.5, 0, 1022.5, 1592.7, 2);
    const letters: [string, number, number][] = [
      ["A", 10, 27], ["L", 1030, 27], ["B", 10, 359], ["M", 1030, 359], ["C", 10, 674], ["D", 311, 674], ["E", 600, 674],
      ["N", 1030, 671], ["O", 1318, 672], ["P", 1620, 671], ["F", 10, 994], ["G", 353, 994], ["H", 672, 994], ["Q", 1032, 997],
      ["R", 1372, 994], ["S", 1697, 995], ["I", 10, 1295], ["J", 355, 1295], ["K", 670, 1295], ["T", 1031, 1295], ["U", 1383, 1295], ["V", 1691, 1295],
    ];
    letters.forEach(([t, x, y]) => text(t, x, y, { size: 37, weight: "bold", align: "left" }));

    chart.setOption({
      animation: false,
      backgroundColor: "#fff",
      grid, xAxis, yAxis, series,
      graphic: { elements: g },
    });
    return () => chart.dispose();
  }, []);
  return <div ref={ref} style={{ position: "absolute", left: 0, top: 0, width: 2048, height: 1599 }} />;
}
